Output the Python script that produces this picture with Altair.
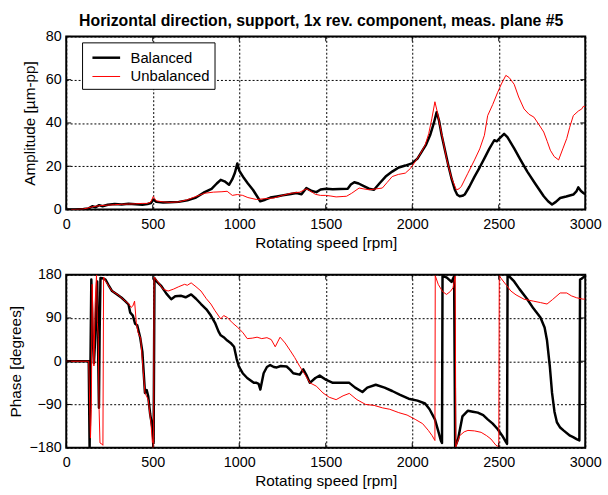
import altair as alt
import pandas as pd

# ---------------- data ----------------
series_names = ["Balanced", "Unbalanced"]

amp_bal_rpm = [0, 50, 100, 130, 150, 170, 190, 210, 240, 280, 320, 360, 400, 440, 470, 490, 503, 520, 560,
               600, 650, 700, 750, 800, 840, 870, 893, 915, 941, 960, 975, 989, 1000, 1027, 1050, 1080,
               1121, 1150, 1180, 1217, 1250, 1290, 1331, 1360, 1388, 1420, 1446, 1470, 1503, 1540, 1580,
               1627, 1645, 1665, 1690, 1720, 1750, 1779, 1810, 1846, 1884, 1922, 1960, 1998, 2030, 2055,
               2080, 2103, 2125, 2141, 2155, 2170, 2190, 2208, 2228, 2246, 2260, 2274, 2290, 2303, 2330,
               2360, 2390, 2417, 2445, 2474, 2490, 2503, 2531, 2550, 2589, 2625, 2665, 2710, 2760, 2785,
               2808, 2830, 2855, 2890, 2931, 2950, 2960, 2975, 2989, 3000]
amp_bal_val = [0, 0, 0.2, 0.5, 1.5, 1.0, 2.0, 1.5, 2.2, 2.5, 2.3, 2.6, 2.4, 2.2, 2.5, 3.0, 4.6, 3.5, 3.2,
               3.3, 3.5, 4.2, 5.5, 8.0, 9.5, 12.0, 13.7, 13.0, 11.4, 14.0, 17.0, 21.3, 18.0, 14.5, 12.0, 9.0,
               3.8, 4.5, 5.5, 6.0, 6.5, 7.0, 7.6, 7.0, 9.9, 8.5, 8.0, 9.2, 9.6, 9.3, 9.5,
               9.6, 11.5, 12.6, 12.0, 10.8, 9.6, 9.1, 12.0, 15.2, 17.5, 19.4, 20.3, 21.3, 23.5, 26.7,
               30.0, 34.3, 40.0, 45.0, 41.0, 34.3, 27.0, 20.6, 14.0, 9.1, 6.8, 6.1, 6.3, 6.9, 10.5,
               15.2, 19.5, 23.6, 28.0, 32.0, 31.5, 32.8, 35.0, 33.5, 28.2, 23.0, 17.5, 12.0, 6.1, 3.8,
               2.3, 3.5, 5.3, 6.0, 6.9, 8.5, 10.2, 8.5, 7.6, 7.0]

amp_unb_rpm = [0, 50, 100, 130, 150, 170, 200, 240, 280, 320, 360, 400, 440, 470, 490, 503, 520, 560, 600,
               650, 700, 750, 800, 850, 900, 930, 960, 989, 1020, 1050, 1100, 1150, 1200, 1250, 1300, 1350,
               1388, 1400, 1440, 1470, 1500, 1530, 1560, 1600, 1620, 1650, 1693, 1720, 1750, 1790, 1827,
               1855, 1884, 1920, 1960, 1990, 2017, 2045, 2074, 2095, 2113, 2131, 2145, 2160, 2180, 2198,
               2225, 2255, 2270, 2284, 2320, 2360, 2390, 2417, 2436, 2465, 2493, 2515, 2541, 2560, 2589,
               2615, 2646, 2675, 2703, 2730, 2760, 2780, 2798, 2820, 2846, 2870, 2893, 2910, 2931, 2960,
               2980, 2989, 3000]
amp_unb_val = [0, 0, 0.2, 0.8, 1.2, 1.5, 1.8, 2.0, 2.2, 2.4, 2.5, 2.6, 2.8, 2.8, 3.5, 6.0, 4.0, 3.5, 3.3,
               3.5, 4.5, 6.0, 7.5, 8.0, 8.2, 8.4, 6.5, 6.9, 6.5, 5.5, 4.6, 5.0, 5.3, 6.5, 7.5, 8.0,
               9.5, 9.1, 7.0, 6.5, 6.5, 6.2, 5.8, 6.0, 6.1, 7.5, 9.9, 9.5, 9.1, 9.5, 9.9,
               12.5, 15.2, 16.2, 16.8, 19.0, 22.1, 25.5, 29.7, 35.0, 41.9, 49.8, 45.0, 38.9, 31.0, 23.6,
               15.0, 9.1, 9.5, 10.7, 16.5, 22.9, 28.0, 34.3, 43.4, 48.5, 54.0, 58.0, 62.0, 61.0, 57.9,
               52.0, 46.5, 44.0, 42.7, 39.5, 35.8, 31.5, 27.4, 24.5, 22.9, 28.0, 32.8, 38.0, 43.4, 45.5,
               46.5, 47.7, 47.5]

ph_bal_rpm = [0, 130, 135, 145, 152, 160, 165, 172, 179, 184, 189, 193, 198, 215, 227, 245, 265, 290, 320,
              341, 360, 370, 385, 398, 410, 427, 440, 455, 465, 474, 485, 499, 505, 510, 525, 550, 580,
              607, 630, 665, 690, 722, 750, 779, 810, 836, 860, 880, 893, 910, 931, 950, 970, 985, 998,
              1020, 1046, 1084, 1100, 1112, 1122, 1141, 1160, 1179, 1200, 1217, 1240, 1274, 1295, 1312,
              1350, 1370, 1390, 1408, 1440, 1465, 1503, 1541, 1600, 1636, 1670, 1712, 1740, 1789, 1840,
              1884, 1930, 1979, 2030, 2074, 2100, 2131, 2150, 2165, 2172, 2175, 2200, 2227, 2242, 2248,
              2265, 2290, 2322, 2350, 2379, 2410, 2436, 2465, 2493, 2520, 2541, 2548, 2551, 2589, 2620,
              2665, 2700, 2741, 2765, 2779, 2795, 2808, 2822, 2836, 2855, 2874, 2912, 2930, 2950, 2966,
              2970, 2980, 2990, 3000]
ph_bal_val = [0, 0, -178, 170, 60, -4, 30, 100, 166, 30, -97, 60, 173, 172, 170, 158, 146, 140, 132,
              125, 118, 101, 95, 78, 75, 50, 20, -66, -60, -73, -110, -141, -170, 173, 165, 156, 140,
              129, 135, 136, 133, 139, 130, 119, 108, 95, 80, 62, 54, 50, 43, 38, 30, 5, -11,
              -25, -35, -45, -45, -47, -59, -25, -12, -8, -12, -13, -10, -11, -18, -25,
              -28, -17, -30, -45, -35, -30, -39, -45, -45, -45, -55, -64, -55, -49, -55,
              -62, -70, -78, -82, -88, -100, -121, -145, -165, -170, 178, 174, 165, 177, -178,
              -162, -115, -103, -105, -107, -112, -121, -130, -141, -155, -168, -172, 180, 166, 150,
              129, 110, 91, 70, 43, -10, -66, -105, -127, -138, -144, -155, -158, -162, -165,
              170, 172, 175, 178]

ph_unb_rpm = [0, 130, 140, 145, 150, 160, 167, 175, 180, 185, 190, 195, 205, 212, 216, 230, 265, 300, 341,
              360, 375, 385, 395, 405, 415, 430, 455, 474, 490, 500, 505, 508, 530, 560, 589, 620, 650,
              684, 700, 722, 750, 779, 810, 836, 860, 893, 910, 931, 960, 989, 1020, 1046, 1075, 1103,
              1130, 1160, 1185, 1208, 1236, 1265, 1293, 1320, 1350, 1380, 1408, 1446, 1484, 1520, 1560,
              1600, 1636, 1680, 1731, 1780, 1827, 1870, 1922, 1970, 2017, 2060, 2093, 2115, 2131, 2133,
              2150, 2175, 2198, 2220, 2236, 2248, 2252, 2274, 2300, 2322, 2360, 2398, 2430, 2455, 2484,
              2500, 2503, 2512, 2540, 2570, 2600, 2646, 2700, 2741, 2779, 2810, 2855, 2893, 2920, 2950,
              2989, 3000]
ph_unb_val = [0, 0, -160, -100, 160, -10, 120, 180, 80, 50, -100, -170, -172, -175, 175, 165, 146, 138, 125,
              120, 112, 115, 125, 80, 60, 48, -66, -80, -130, -180, -175, 175, 165, 150, 146, 150, 155,
              160, 158, 163, 155, 146, 130, 119, 105, 88, 95, 91, 80, 71, 60, 47, 48, 50,
              47, 49, 45, 30, 50, 38, 23, 8, -11, -28, -45, -52, -66, -75, -80,
              -72, -67, -80, -90, -92, -97, -100, -107, -112, -121, -130, -144, -155, -165, 178,
              160, 145, 139, 145, 153, 177, -178, -155, -147, -144, -145, -148, -155, -162, -175,
              -178, 178, 173, 160, 146, 138, 129, 125, 122, 119, 128, 142, 142, 136, 132,
              129, 130]

x_tick_values = [0, 500, 1000, 1500, 2000, 2500, 3000]
amp_tick_values = [0, 20, 40, 60, 80]
phase_tick_values = [-180, -90, 0, 90, 180]

title_text = "Horizontal direction, support, 1x rev. component, meas. plane #5"

# ---------------- tables ----------------
def long_table(rpm_a, val_a, rpm_b, val_b):
    a = pd.DataFrame({"rpm": rpm_a, "value": val_a, "series": series_names[0]})
    b = pd.DataFrame({"rpm": rpm_b, "value": val_b, "series": series_names[1]})
    return pd.concat([a, b], ignore_index=True)

amp_df = long_table(amp_bal_rpm, amp_bal_val, amp_unb_rpm, amp_unb_val)
ph_df = long_table(ph_bal_rpm, ph_bal_val, ph_unb_rpm, ph_unb_val)
xt_df = pd.DataFrame({"rpm": x_tick_values})

W, H = 525, 175
FONT = "Liberation Sans"

color_scale = alt.Scale(domain=series_names, range=["#000000", "#ff0000"])
width_scale = alt.Scale(type="point", domain=series_names, range=[2.5, 1.0], padding=0)

x_scale = alt.Scale(domain=[0, 3000], nice=False, zero=False)


def panel(df, ydom, yticks, ytitle, y_title_pad, show_legend):
    y_scale = alt.Scale(domain=ydom, nice=False, zero=False)
    if show_legend:
        leg = alt.Legend(title=None, orient="none", legendX=16, legendY=6,
                         fillColor="white", strokeColor="black",
                         padding=4, symbolType="M-1.4,0H1.4", symbolSize=400,
                         symbolOffset=9,
                         labelFontSize=15, labelFont=FONT, labelOffset=13,
                         labelExpr="datum.label + '\u00a0\u00a0\u00a0\u00a0\u00a0'",
                         rowPadding=0, cornerRadius=0)
        color_enc = alt.Color("series:N", scale=color_scale, legend=leg, sort=series_names)
        width_enc = alt.StrokeWidth("series:N", scale=width_scale, legend=leg, sort=series_names)
    else:
        color_enc = alt.Color("series:N", scale=color_scale, legend=None, sort=series_names)
        width_enc = alt.StrokeWidth("series:N", scale=width_scale, legend=None, sort=series_names)

    x_enc = alt.X("rpm:Q", scale=x_scale,
                  axis=alt.Axis(values=x_tick_values, title="Rotating speed [rpm]", format="d",
                                grid=True, ticks=False, tickSize=0, domain=False,
                                labelFlush=False, labelPadding=8, titlePadding=5))
    y_enc = alt.Y("value:Q", scale=y_scale,
                  axis=alt.Axis(values=yticks, title=ytitle, format="d",
                                grid=True, ticks=False, tickSize=0, domain=False,
                                labelFlush=False, labelPadding=5, titlePadding=y_title_pad))

    lines = alt.Chart(df).mark_line(clip=True, strokeJoin="round").encode(
        x=x_enc, y=y_enc, color=color_enc, strokeWidth=width_enc, detail="series:N",
    )

    yt_df = pd.DataFrame({"value": yticks})
    tick_style = dict(color="black", strokeWidth=1)
    xb = alt.Chart(xt_df).mark_rule(**tick_style).encode(
        x=x_enc, y=alt.value(H), y2=alt.value(H - 5))
    xtop = alt.Chart(xt_df).mark_rule(**tick_style).encode(
        x=x_enc, y=alt.value(0), y2=alt.value(5))
    yl = alt.Chart(yt_df).mark_rule(**tick_style).encode(
        y=y_enc, x=alt.value(0), x2=alt.value(5))
    yr = alt.Chart(yt_df).mark_rule(**tick_style).encode(
        y=y_enc, x=alt.value(W), x2=alt.value(W - 5))

    return alt.layer(lines, xb, xtop, yl, yr).properties(width=W, height=H)


top = panel(amp_df, [0, 80], amp_tick_values, "Amplitude [µm-pp]", 8, True).properties(
    title=alt.TitleParams(title_text, anchor="start", fontSize=16, fontWeight="bold",
                          font=FONT, offset=0, frame="group", dx=13))
bottom = panel(ph_df, [-180, 180], phase_tick_values, "Phase [degrees]", 6, False)

chart = alt.vconcat(top, bottom, spacing=14).resolve_scale(
    color="independent", strokeWidth="independent"
).properties(
    padding={"left": 7, "top": 9, "right": 5, "bottom": 5}
).configure(font=FONT).configure_view(
    stroke="black", strokeWidth=2
).configure_axis(
    labelFont=FONT, titleFont=FONT, labelFontSize=14.5, titleFontSize=15.5,
    titleFontWeight="normal", labelColor="black", titleColor="black",
    gridColor="black", gridDash=[2, 2], gridWidth=1, gridOpacity=1
)

chart.save("out.html", embed_options={"renderer": "svg", "actions": False})
